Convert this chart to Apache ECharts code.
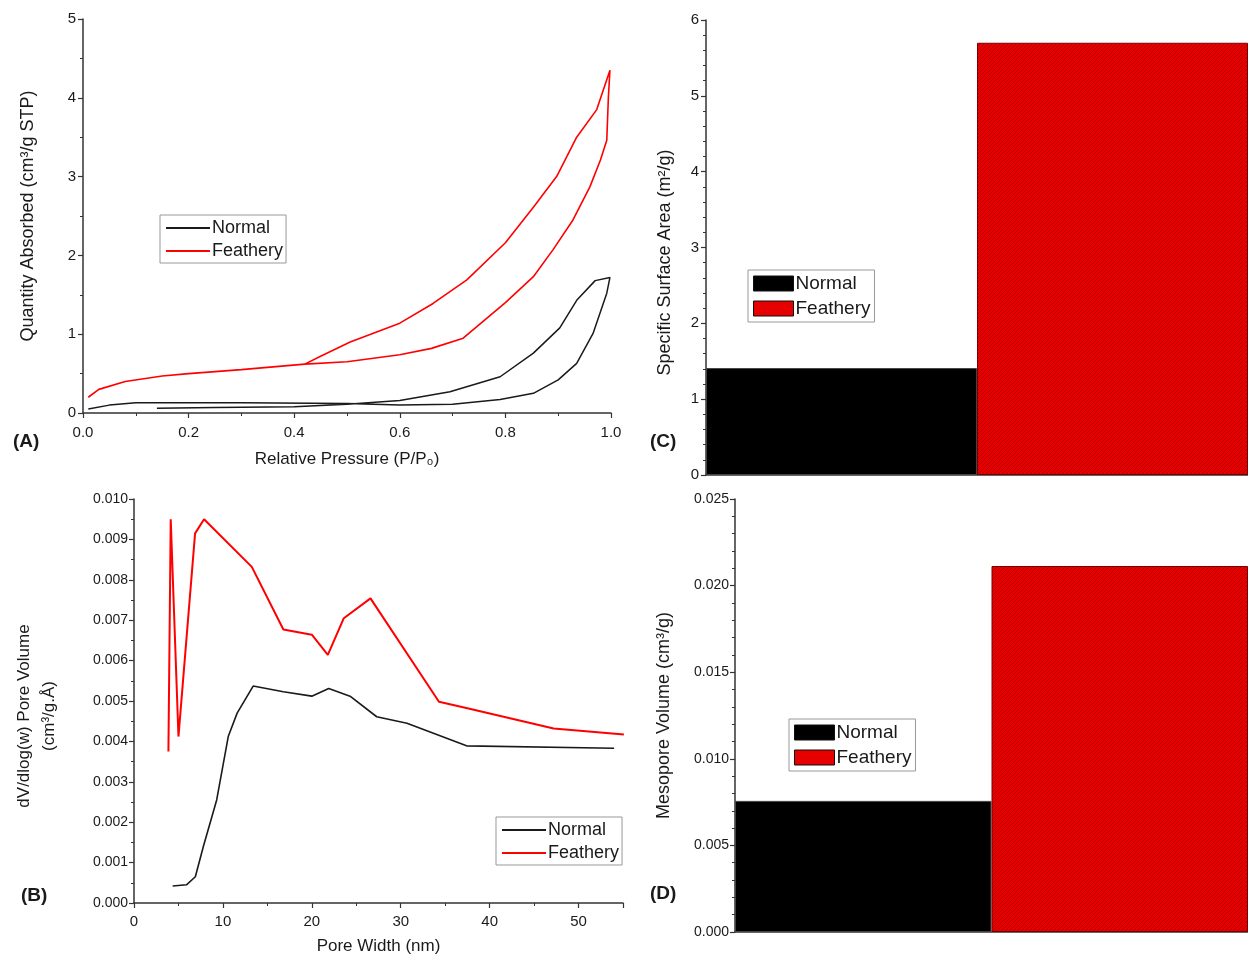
<!DOCTYPE html>
<html>
<head>
<meta charset="utf-8">
<script src="https://cdn.jsdelivr.net/npm/echarts@6/dist/echarts.min.js"></script>
<style>
  html, body { margin: 0; padding: 0; background: #fff; }
  #chart { width: 1248px; height: 961px; }
</style>
</head>
<body>
<div id="chart"></div>
<script>
// (A) N2 isotherms: relative pressure vs quantity absorbed, adsorption then desorption
var normalP = [0.01, 0.05, 0.1, 0.3, 0.5, 0.6, 0.7, 0.79, 0.853, 0.9, 0.935, 0.966, 0.992, 0.998,
               0.97, 0.935, 0.903, 0.853, 0.79, 0.695, 0.6, 0.5, 0.4, 0.25, 0.14];
var normalQ = [0.05, 0.1, 0.13, 0.13, 0.12, 0.1, 0.11, 0.17, 0.25, 0.42, 0.63, 1.01, 1.52, 1.72,
               1.68, 1.43, 1.08, 0.76, 0.46, 0.27, 0.16, 0.11, 0.08, 0.07, 0.06];
var featheryP = [0.01, 0.03, 0.08, 0.15, 0.2, 0.3, 0.42, 0.5, 0.6, 0.66, 0.72, 0.8, 0.853, 0.89, 0.928, 0.96, 0.98, 0.992, 0.995, 0.998,
                 0.973, 0.935, 0.897, 0.853, 0.8, 0.727, 0.663, 0.6, 0.506, 0.45, 0.42];
var featheryQ = [0.2, 0.3, 0.4, 0.47, 0.5, 0.55, 0.62, 0.65, 0.74, 0.82, 0.95, 1.4, 1.73, 2.07, 2.45, 2.87, 3.21, 3.46, 4.0, 4.35,
                 3.85, 3.5, 3.0, 2.61, 2.16, 1.69, 1.39, 1.14, 0.9, 0.72, 0.62];

// (B) pore size distribution
var normalW = [4.35, 5.9, 6.9, 7.8, 9.3, 10.6, 11.6, 13.4, 16.8, 20.0, 21.9, 24.3, 27.3, 30.7, 37.4, 54.0];
var normalV = [0.00042, 0.00045, 0.00065, 0.0014, 0.00255, 0.00412, 0.0047, 0.00537, 0.00523, 0.00512, 0.00531, 0.00512, 0.00461, 0.00445, 0.00389, 0.00383];
var featheryW = [3.87, 4.13, 5.0, 6.87, 7.88, 13.25, 16.8, 20.0, 21.8, 23.6, 26.6, 34.3, 37.5, 47.2, 55.1];
var featheryV = [0.00375, 0.0095, 0.00412, 0.00915, 0.0095, 0.00832, 0.00677, 0.00664, 0.00614, 0.00705, 0.00754, 0.00498, 0.00482, 0.00432, 0.00417];

// (C) and (D) bars
var samples = ['Normal', 'Feathery'];
var surfaceArea = [1.41, 5.70];
var mesoVolume = [0.00757, 0.02113];

var FONT = "'Liberation Sans Narrow', 'Liberation Sans', Arial, sans-serif";
var INK = '#1a1a1a';
var RED = '#ff0000';
var BAR_RED = '#e60000';

function zip(a, b) {
  return a.map(function (v, i) { return [v, b[i]]; });
}

// red fill with fine diagonal hatch, like the original bars
function hatch() {
  var c = document.createElement('canvas');
  c.width = 4; c.height = 4;
  var g = c.getContext('2d');
  g.fillStyle = BAR_RED;
  g.fillRect(0, 0, 4, 4);
  g.strokeStyle = '#b00000';
  g.lineWidth = 0.8;
  g.beginPath();
  g.moveTo(0, 4); g.lineTo(4, 0);
  g.moveTo(-1, 1); g.lineTo(1, -1);
  g.moveTo(3, 5); g.lineTo(5, 3);
  g.stroke();
  return c;
}

function valueAxis(idx, o) {
  return Object.assign({
    type: 'value',
    gridIndex: idx,
    nameLocation: 'middle',
    nameTextStyle: { fontFamily: FONT, fontSize: 17, color: INK },
    splitLine: { show: false },
    axisLine: { show: true, onZero: false, lineStyle: { color: '#333', width: 1.5 } },
    axisTick: { show: true, inside: false, length: 5, lineStyle: { color: '#333', width: 1.2 } },
    minorTick: { show: true, splitNumber: 2, length: 3, lineStyle: { color: '#333', width: 1 } },
    axisLabel: { fontFamily: FONT, fontSize: 15, color: INK, margin: 7 }
  }, o);
}

function catAxis(idx) {
  return {
    type: 'category',
    gridIndex: idx,
    data: samples,
    axisLine: { lineStyle: { color: '#333', width: 1.5 } },
    axisTick: { show: false },
    axisLabel: { show: false }
  };
}

function lineSeries(name, data, color, width, idx) {
  return {
    name: name, type: 'line', xAxisIndex: idx, yAxisIndex: idx,
    data: data, symbol: 'none', smooth: false,
    lineStyle: { color: color, width: width }, itemStyle: { color: color },
    silent: true, animation: false
  };
}

function legendBox(left, top, bar) {
  return {
    left: left, top: top, orient: 'vertical',
    data: [
      { name: 'Normal', itemStyle: { color: bar ? '#000' : INK } },
      { name: 'Feathery', itemStyle: { color: bar ? BAR_RED : RED } }
    ],
    icon: 'rect',
    itemGap: bar ? 6 : 5,
    itemWidth: bar ? 40 : 44,
    itemHeight: bar ? 15 : 2,
    itemStyle: bar ? { borderColor: '#111', borderWidth: 1 } : { borderWidth: 0 },
    padding: bar ? [4, 4, 4, 5] : [4, 3, 3, 6],
    borderColor: '#999', borderWidth: 1, backgroundColor: '#fff',
    textStyle: { fontFamily: FONT, fontSize: bar ? 19 : 18, color: INK, padding: [0, 0, 0, -3] },
    selectedMode: false
  };
}

var redFill = { image: hatch(), repeat: 'repeat' };

var option = {
  backgroundColor: '#fff',
  animation: false,
  grid: [
    { left: 83, top: 19, width: 528, height: 394 },
    { left: 134, top: 499, width: 489, height: 404 },
    { left: 706, top: 20, width: 550, height: 455 },
    { left: 735, top: 499, width: 522, height: 433 }
  ],
  legend: [
    legendBox(160, 215, false),
    legendBox(496, 817, false),
    legendBox(748, 270, true),
    legendBox(789, 719, true)
  ],
  xAxis: [
    valueAxis(0, { min: 0, max: 1, interval: 0.2, name: 'Relative Pressure (P/P\u2080)', nameGap: 38,
      axisLabel: { fontFamily: FONT, fontSize: 15, color: INK, margin: 12, formatter: function (v) { return v.toFixed(1); } } }),
    valueAxis(1, { min: 0, max: 55, interval: 10, name: 'Pore Width (nm)', nameGap: 35,
      axisLabel: { fontFamily: FONT, fontSize: 15, color: INK, margin: 11, showMaxLabel: false } }),
    catAxis(2),
    catAxis(3)
  ],
  yAxis: [
    valueAxis(0, { min: 0, max: 5, interval: 1, name: 'Quantity Absorbed (cm\u00b3/g STP)', nameGap: 46,
      nameTextStyle: { fontFamily: FONT, fontSize: 18, color: INK } }),
    valueAxis(1, { min: 0, max: 0.01, interval: 0.001, name: 'dV/dlog(w) Pore Volume\n(cm\u00b3/g.\u00c5)', nameGap: 72,
      nameTextStyle: { fontFamily: FONT, fontSize: 17, color: INK, lineHeight: 25, padding: [0, 30, 0, 0] },
      axisLabel: { fontFamily: FONT, fontSize: 14, color: INK, margin: 6, formatter: function (v) { return v.toFixed(3); } } }),
    valueAxis(2, { min: 0, max: 6, interval: 1, name: 'Specific Surface Area (m\u00b2/g)', nameGap: 32,
      nameTextStyle: { fontFamily: FONT, fontSize: 18, color: INK, padding: [0, 30, 0, 0] },
      minorTick: { show: true, splitNumber: 5, length: 3, lineStyle: { color: '#333', width: 1 } } }),
    valueAxis(3, { min: 0, max: 0.025, interval: 0.005, name: 'Mesopore Volume (cm\u00b3/g)', nameGap: 62,
      nameTextStyle: { fontFamily: FONT, fontSize: 18, color: INK },
      minorTick: { show: true, splitNumber: 5, length: 3, lineStyle: { color: '#333', width: 1 } },
      axisLabel: { fontFamily: FONT, fontSize: 14, color: INK, margin: 6, formatter: function (v) { return v.toFixed(3); } } })
  ],
  series: [
    lineSeries('Normal', zip(normalP, normalQ), INK, 1.5, 0),
    lineSeries('Feathery', zip(featheryP, featheryQ), RED, 1.6, 0),
    lineSeries('Normal', zip(normalW, normalV), INK, 1.6, 1),
    lineSeries('Feathery', zip(featheryW, featheryV), RED, 2, 1),
    {
      name: 'Normal', type: 'bar', xAxisIndex: 2, yAxisIndex: 2, stack: 'c',
      data: [surfaceArea[0], '-'], barWidth: '100%',
      itemStyle: { color: '#000', borderColor: '#444', borderWidth: 1 }
    },
    {
      name: 'Feathery', type: 'bar', xAxisIndex: 2, yAxisIndex: 2, stack: 'c',
      data: ['-', surfaceArea[1]], barWidth: '100%',
      itemStyle: { color: redFill, borderColor: '#7a0000', borderWidth: 1 }
    },
    {
      name: 'Normal', type: 'bar', xAxisIndex: 3, yAxisIndex: 3, stack: 'd',
      data: [mesoVolume[0], '-'], barWidth: '100%',
      itemStyle: { color: '#000', borderColor: '#444', borderWidth: 1 }
    },
    {
      name: 'Feathery', type: 'bar', xAxisIndex: 3, yAxisIndex: 3, stack: 'd',
      data: ['-', mesoVolume[1]], barWidth: '100%',
      itemStyle: { color: redFill, borderColor: '#7a0000', borderWidth: 1 }
    }
  ],
  graphic: [
    { type: 'text', left: 13, top: 432, style: { text: '(A)', font: 'bold 19px ' + FONT, fill: INK } },
    { type: 'text', left: 21, top: 886, style: { text: '(B)', font: 'bold 19px ' + FONT, fill: INK } },
    { type: 'text', left: 650, top: 432, style: { text: '(C)', font: 'bold 19px ' + FONT, fill: INK } },
    { type: 'text', left: 650, top: 884, style: { text: '(D)', font: 'bold 19px ' + FONT, fill: INK } }
  ]
};

echarts.init(document.getElementById('chart'), null, { renderer: 'canvas' }).setOption(option);
</script>
</body>
</html>
